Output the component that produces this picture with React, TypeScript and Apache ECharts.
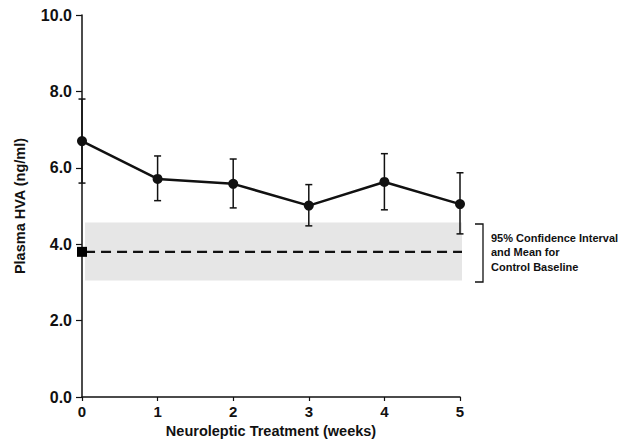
import React, { useEffect, useRef } from "react";
import * as echarts from "echarts";

const weeks = [0, 1, 2, 3, 4, 5];
const meanHVA = [6.7, 5.71, 5.58, 5.01, 5.63, 5.05];
const upperHVA = [7.8, 6.31, 6.23, 5.56, 6.37, 5.87];
const lowerHVA = [5.6, 5.14, 4.95, 4.48, 4.9, 4.27];
const yTicks = [0, 2, 4, 6, 8, 10];
const controlMean = 3.8;
const controlLow = 3.05;
const controlHigh = 4.57;
const annotationLines = ["95% Confidence Interval", "and Mean for", "Control Baseline"];

const FONT = "'Liberation Sans', Arial, Helvetica, sans-serif";

export default function App() {
  const ref = useRef<HTMLDivElement>(null);
  useEffect(() => {
    if (!ref.current) return;
    const chart = echarts.init(ref.current, null, { renderer: "svg" });
    const errData = weeks.map((w, i) => [w, lowerHVA[i], upperHVA[i]]);
    chart.setOption({
      animation: false,
      backgroundColor: "#ffffff",
      grid: [
        { left: 82, right: 166, top: 15, bottom: 43, containLabel: false, outerBoundsMode: "none" },
        { left: 82, right: 164, top: 15, bottom: 43, containLabel: false, outerBoundsMode: "none" },
      ],
      xAxis: [
        {
          type: "value",
          gridIndex: 0,
          min: 0,
          max: 5,
          interval: 1,
          name: "Neuroleptic Treatment (weeks)",
          nameLocation: "middle",
          nameGap: 25,
          nameTextStyle: { fontFamily: FONT, fontWeight: "bold", fontSize: 14.5, color: "#111", lineHeight: 15 },
          axisLine: { lineStyle: { color: "#111", width: 1.5 } },
          axisTick: { length: 4, lineStyle: { color: "#111", width: 1.2 } },
          axisLabel: { fontFamily: FONT, fontWeight: "bold", fontSize: 15, color: "#111", margin: 7, lineHeight: 15 },
          splitLine: { show: false },
        },
        { type: "value", gridIndex: 1, min: 0, max: 1, show: false },
      ],
      yAxis: [
        {
          type: "value",
          gridIndex: 0,
          min: 0,
          max: 10,
          interval: 2,
          name: "Plasma HVA (ng/ml)",
          nameLocation: "middle",
          nameGap: 55,
          nameRotate: 90,
          nameTextStyle: { fontFamily: FONT, fontWeight: "bold", fontSize: 14.5, color: "#111" },
          axisLine: { show: true, lineStyle: { color: "#111", width: 1.5 } },
          axisTick: { show: true, length: 6, lineStyle: { color: "#111", width: 1.2 } },
          axisLabel: {
            fontFamily: FONT,
            fontWeight: "bold",
            fontSize: 16,
            color: "#111",
            margin: 10,
            formatter: (v: number) => (yTicks.includes(v) ? v.toFixed(1) : ""),
          },
          splitLine: { show: false },
        },
        { type: "value", gridIndex: 1, min: 0, max: 10, show: false },
      ],
      series: [
        {
          type: "line",
          xAxisIndex: 1,
          yAxisIndex: 1,
          z: 1,
          data: [
            [0.008, controlMean],
            [1, controlMean],
          ],
          symbol: "none",
          lineStyle: { color: "#111", width: 2.2, type: [10, 6] },
          markArea: {
            silent: true,
            itemStyle: { color: "#e6e6e6" },
            data: [[{ coord: [0.008, controlLow] }, { coord: [1, controlHigh] }]],
          },
        },
        {
          type: "scatter",
          xAxisIndex: 0,
          yAxisIndex: 0,
          z: 10,
          data: [[0, controlMean]],
          symbol: "rect",
          symbolSize: 10,
          itemStyle: { color: "#000", opacity: 1 },
        },
        {
          type: "custom",
          xAxisIndex: 0,
          yAxisIndex: 0,
          z: 2,
          data: errData,
          renderItem: (params: any, api: any) => {
            const x = api.value(0);
            const lo = api.coord([x, api.value(1)]);
            const hi = api.coord([x, api.value(2)]);
            const cw = 3.5;
            const st = { stroke: "#111", lineWidth: 1.5 };
            return {
              type: "group",
              children: [
                { type: "line", shape: { x1: lo[0], y1: lo[1], x2: hi[0], y2: hi[1] }, style: st },
                { type: "line", shape: { x1: lo[0] - cw, y1: lo[1], x2: lo[0] + cw, y2: lo[1] }, style: st },
                { type: "line", shape: { x1: hi[0] - cw, y1: hi[1], x2: hi[0] + cw, y2: hi[1] }, style: st },
              ],
            };
          },
        },
        {
          type: "line",
          xAxisIndex: 0,
          yAxisIndex: 0,
          z: 4,
          data: weeks.map((w, i) => [w, meanHVA[i]]),
          symbol: "circle",
          symbolSize: 10,
          itemStyle: { color: "#111" },
          lineStyle: { color: "#111", width: 2.5 },
        },
      ],
      graphic: [
        {
          type: "polyline",
          shape: { points: [[475, 224], [483, 224], [483, 282], [475, 282]] },
          style: { stroke: "#111", lineWidth: 1.3, fill: "none" },
        },
        ...annotationLines.map((t, i) => ({
          type: "text",
          left: 491,
          top: 232 + i * 14.5,
          style: { text: t, fontFamily: FONT, fontWeight: "bold", fontSize: 11, fill: "#111" },
        })),
      ],
    });
    return () => chart.dispose();
  }, []);
  return <div ref={ref} style={{ width: 626, height: 440, position: "absolute", left: 0, top: 0 }} />;
}
